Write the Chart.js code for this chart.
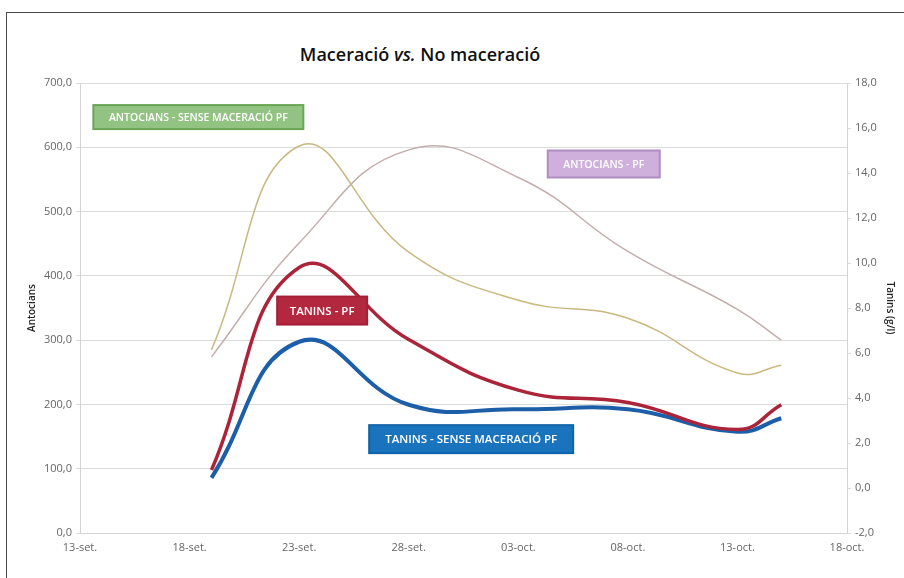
<!DOCTYPE html>
<html>
<head>
<meta charset="utf-8">
<script src="https://cdn.jsdelivr.net/npm/chart.js@4"></script>
<style>
  html, body { margin: 0; padding: 0; background: #fff; }
  #wrap { position: relative; width: 904px; height: 578px; overflow: hidden; }
  #frame { position: absolute; left: 6px; top: 12px; width: 920px; height: 600px; border: 1px solid #4a4a4a; }
  #title { position: absolute; left: 0; width: 840px; top: 42px; text-align: center;
           font-family: "Open Sans", sans-serif; font-weight: 600; font-size: 18px; color: #111; }
  canvas { position: absolute; left: 0; top: 0; }
</style>
</head>
<body>
<div id="wrap">
  <div id="frame"></div>
  <div id="title">Maceració <i>vs.</i> No maceració</div>
  <canvas id="grafic" width="904" height="578"></canvas>
</div>
<script>
// dies des del 13-set.
const dies = [6, 10, 15, 20, 25, 30, 32];
const xTickLabels = ['13-set.', '18-set.', '23-set.', '28-set.', '03-oct.', '08-oct.', '13-oct.', '18-oct.'];

// antocians (eix esquerre)
const antocSense = [285, 602, 437, 362, 334, 249, 261];
const antocPF = [274, 451, 596, 553, 438, 348, 300];
// tanins g/l (eix dret)
const taninsPF = [0.8, 9.8, 6.6, 4.35, 3.8, 2.6, 3.7];
const taninsSense = [0.45, 6.5, 3.7, 3.5, 3.5, 2.5, 3.1];

// caixes de text: [text, dia, valor eix esquerre, fons, vora, amplada, alçada, mida lletra]
const etiquetes = [
    ['ANTOCIANS - SENSE MACERACIÓ PF', 5.4, 647, '#93c383', '#6aa656', 210, 24, 10.5],
    ['ANTOCIANS - PF', 23.9, 574, '#cfb0dc', '#ae8cc4', 112, 27, 10.5],
    ['TANINS - PF', 11.05, 346, '#b3283e', '#a52035', 90, 28, 11.5],
    ['TANINS - SENSE MACERACIÓ PF', 17.85, 146, '#1a74bd', '#0f64a8', 204, 28, 11.5]
];

function punts(vals) {
    return vals.map((v, i) => ({ x: dies[i], y: v }));
}

const etiquetesPlugin = {
    id: 'etiquetes',
    afterDatasetsDraw(chart) {
        const ctx = chart.ctx;
        const xs = chart.scales.x;
        const ys = chart.scales.y;
        etiquetes.forEach(e => {
            const cx = xs.getPixelForValue(e[1]);
            const cy = ys.getPixelForValue(e[2]);
            const w = e[5], h = e[6];
            ctx.save();
            ctx.fillStyle = e[3];
            ctx.fillRect(cx - w / 2, cy - h / 2, w, h);
            ctx.strokeStyle = e[4];
            ctx.lineWidth = 2;
            ctx.strokeRect(cx - w / 2, cy - h / 2, w, h);
            ctx.fillStyle = '#ffffff';
            ctx.font = '600 ' + e[7] + 'px "Open Sans", sans-serif';
            ctx.textAlign = 'center';
            ctx.textBaseline = 'middle';
            ctx.fillText(e[0], cx, cy + 1);
            ctx.restore();
        });
    }
};

const tickFont = { family: '"Open Sans", sans-serif', size: 11 };
const coma = v => v.toFixed(1).replace('.', ',');

new Chart(document.getElementById('grafic'), {
    type: 'line',
    data: {
        datasets: [
            { label: 'Antocians - sense maceració PF', data: punts(antocSense), yAxisID: 'y',
              borderColor: '#c9b880', borderWidth: 1.5 },
            { label: 'Antocians - PF', data: punts(antocPF), yAxisID: 'y',
              borderColor: '#c2aeac', borderWidth: 1.5 },
            { label: 'Tanins - PF', data: punts(taninsPF), yAxisID: 'y1',
              borderColor: '#ab2439', borderWidth: 3.5 },
            { label: 'Tanins - sense maceració PF', data: punts(taninsSense), yAxisID: 'y1',
              borderColor: '#1d5ea8', borderWidth: 4 }
        ]
    },
    options: {
        responsive: false,
        animation: false,
        elements: { point: { radius: 0 }, line: { tension: 0.45, fill: false } },
        layout: { padding: { top: 83, bottom: 8, left: 26, right: 8 } },
        plugins: { legend: { display: false }, tooltip: { enabled: false } },
        scales: {
            x: {
                type: 'linear', min: 0, max: 35,
                afterFit: s => { s.height = 37; },
                afterBuildTicks: s => { s.ticks = xTickLabels.map((l, i) => ({ value: i * 5 })); },
                ticks: { callback: (v) => xTickLabels[Math.round(v / 5)], color: '#666', font: tickFont,
                         maxRotation: 0, autoSkip: false, padding: 4 },
                grid: { display: false, drawTicks: true, tickLength: 4 },
                border: { color: '#d4d4d4' }
            },
            y: {
                position: 'left', min: 0, max: 700,
                afterFit: s => { s.width = 54; },
                ticks: { stepSize: 100, callback: coma, color: '#666', font: tickFont, padding: 4 },
                grid: { color: '#dcdcdc', tickLength: 4 },
                border: { color: '#d4d4d4' },
                title: { display: true, text: 'Antocians', color: '#222',
                         font: { family: '"Open Sans", sans-serif', size: 10, weight: '600' }, padding: 0 }
            },
            y1: {
                position: 'right', min: -2, max: 18,
                afterFit: s => { s.width = 49; },
                ticks: { stepSize: 2, callback: coma, color: '#666', font: tickFont, padding: 4 },
                grid: { drawOnChartArea: false, color: '#dcdcdc', tickLength: 4 },
                border: { color: '#d4d4d4' },
                title: { display: true, text: 'Tanins (g/l)', color: '#222',
                         font: { family: '"Open Sans", sans-serif', size: 10, weight: '600' }, padding: 0 }
            }
        }
    },
    plugins: [etiquetesPlugin]
});
</script>
</body>
</html>
